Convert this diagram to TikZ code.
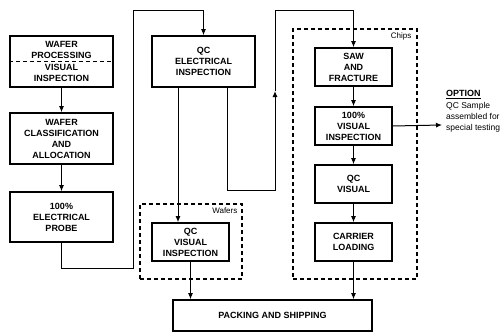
\documentclass[tikz,border=0pt]{standalone}
\usepackage{fontspec}
\setmainfont{Liberation Sans}
\usetikzlibrary{arrows.meta, positioning, calc}

\begin{document}
\begin{tikzpicture}[x=1pt,y=-1pt]
\tikzset{
  bx/.style={rectangle,draw=black,line width=1.6pt,minimum width=103pt,minimum height=51pt,align=center,inner sep=1pt,font=\fontsize{9}{11}\selectfont\bfseries},
  sb/.style={bx,minimum width=77pt,minimum height=38pt},
  gp/.style={rectangle,draw=black,line width=1.1pt,dash pattern=on 4pt off 3pt},
  ar/.style={-{Latex[length=6pt,width=5pt]},line width=1pt,draw=black},
  lb/.style={font=\fontsize{8}{10}\selectfont,inner sep=1pt}
}
\useasboundingbox (0,0) rectangle (504,332);
% groups
\node[gp,minimum width=102pt,minimum height=75pt] (wafers) at (191,241.5) {};
\node[gp,minimum width=124pt,minimum height=250pt] (chips) at (355,154) {};
\node[lb,anchor=north east] (wlab) at ([xshift=-4pt,yshift=-3pt]wafers.north east) {Wafers};
\node[lb,anchor=north east] (clab) at ([xshift=-5pt,yshift=-3pt]chips.north east) {Chips};
% left column
\node[bx] (wp) at (61.5,61.5) {};
\node[bx,draw=none,minimum height=0pt,anchor=south] (wpa) at ([yshift=1pt]wp.center) {WAFER\\PROCESSING};
\node[bx,draw=none,minimum height=0pt,anchor=north] (wpb) at ([yshift=-1pt]wp.center) {VISUAL\\INSPECTION};
\draw[line width=1.1pt,dash pattern=on 4pt off 3pt] (wp.west) -- (wp.east);
\node[bx] (wc) at (61.5,138.5) {WAFER\\CLASSIFICATION\\AND\\ALLOCATION};
\node[bx,minimum height=50pt] (ep) at (61.5,217) {100\%\\ELECTRICAL\\PROBE};
% middle column
\node[bx] (qce) at (203.5,61.5) {QC\\ELECTRICAL\\INSPECTION};
\node[sb] (qcv) at (190.5,242) {QC\\VISUAL\\INSPECTION};
% chips column
\node[sb] (saw) at (353.5,67) {SAW\\AND\\FRACTURE};
\node[sb] (vis) at (353.5,126) {100\%\\VISUAL\\INSPECTION};
\node[sb] (qcc) at (353.5,184) {QC\\VISUAL};
\node[sb] (cl) at (353.5,242) {CARRIER\\LOADING};
\node[bx,minimum width=199pt,minimum height=31pt] (pk) at (272.5,315.5) {PACKING AND SHIPPING};
% option
\coordinate (optp) at (442,125);
\node[anchor=north west,align=left,inner sep=0pt,font=\fontsize{8.5}{11}\selectfont] (opt) at (446,90)
  {{\fontsize{9}{10}\selectfont\bfseries\underline{OPTION}}\\[1pt]QC Sample\\assembled for\\special testing};
% connectors
\draw[ar] (wp) -- (wc);
\draw[ar] (wc) -- (ep);
\draw[ar] (ep.south) -- ++(0,26) -| (133,10) -| (qce.north);
\draw[ar] ([xshift=-25.5pt]qce.south) -- ([xshift=-25.5pt]qce.south |- qcv.north);
\coordinate (up) at (275,91);
\draw[ar] ([xshift=23.5pt]qce.south) |- (275,190) -- (up);
\draw[ar] (up) -- (275,10) -| (saw.north);
\draw[ar] (saw) -- (vis);
\draw[ar] (vis) -- (qcc);
\draw[ar] (qcc) -- (cl);
\draw[ar] (vis.east) -- (optp);
\draw[ar] (cl.south) -- (cl.south |- pk.north);
\draw[ar] (qcv.south) -- (qcv.south |- pk.north);
\end{tikzpicture}
\end{document}
